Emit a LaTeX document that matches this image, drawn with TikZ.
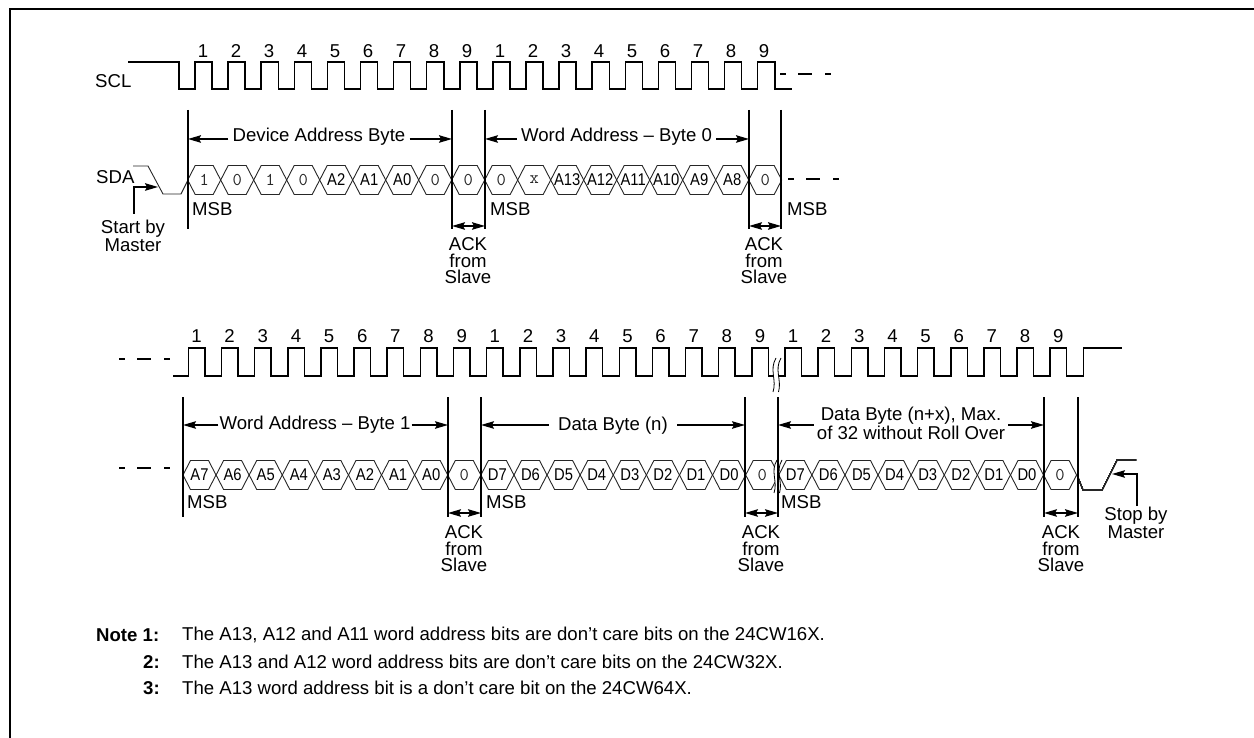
\documentclass[tikz,border=0pt]{standalone}
\usepackage{fontspec}
\setmainfont{Liberation Sans}
\newfontfamily\cellfont[FakeStretch=0.87]{Liberation Sans}
\usetikzlibrary{arrows.meta}

\tikzstyle{fonte} = [font=\fontsize{18.6}{16.5}\selectfont, inner sep=3pt, align=center]
\tikzstyle{notefonte} = [font=\fontsize{18.6}{20}\selectfont, inner sep=0pt]
\tikzstyle{wave} = [line width=1.5pt, line join=miter]
\tikzstyle{marker} = [line width=1.5pt]
\tikzstyle{hexline} = [line width=0.9pt, black!85]
\tikzstyle{gap} = [line width=1.3pt, dash pattern=on 6pt off 12pt on 14pt off 13pt on 6pt]
\tikzstyle{flow} = [line width=1.5pt]

\newcommand{\bitzero}[1]{{\ttfamily\fontsize{18}{18}\selectfont\color{black!85}#1}}
\newcommand{\cellname}[1]{{\cellfont\fontsize{17}{17}\selectfont #1}}

% one bit cell: name, left x, middle y, label
\newcommand{\hexcell}[4]{
    \draw [hexline] (#2,#3) -- ++(7.5,-14.5) -- ++(18,0) -- ++(7.5,14.5) -- ++(-7.5,14.5) -- ++(-18,0) -- cycle;
    \node at (#2+16.5,#3) [inner sep=0pt] (#1) {#4};
}

% break mark: x, top y, height
\newcommand{\breakmark}[3]{
    \fill [white] (#1,#2) .. controls (#1-7,#2+#3*0.35) and (#1+1,#2+#3*0.65) .. (#1-3,#2+#3) -- (#1+2.5,#2+#3) .. controls (#1+6,#2+#3*0.65) and (#1-2,#2+#3*0.35) .. (#1+5,#2) -- cycle;
    \draw [line width=0.8pt] (#1,#2) .. controls (#1-7,#2+#3*0.35) and (#1+1,#2+#3*0.65) .. (#1-3,#2+#3);
    \draw [line width=0.8pt] (#1+5,#2) .. controls (#1-2,#2+#3*0.35) and (#1+6,#2+#3*0.65) .. (#1+2.5,#2+#3);
}

\begin{document}
\begin{tikzpicture}[x=1pt, y=-1pt, >={Stealth[length=13pt,width=7.5pt,inset=2pt]}]

    \useasboundingbox (0,0) rectangle (1254,738);

    % frame
    \draw [line width=2pt] (10,738) -- (10,9) -- (1254,9);

    % first row: clock
    \node at (95,81) [fonte, anchor=west, inner sep=0pt] (sclname) {SCL};
    \draw [wave] (128,62) -- (179,62) foreach \k in {1,...,18} { -- ++(0,27) -- ++(16,0) -- ++(0,-27) -- ++(17.1,0)} -- ++(0,27) -- ++(17,0);
    \draw [gap] (780,74) -- (831,74);
    \foreach \n [count=\k from 0] in {1,2,3,4,5,6,7,8,9,1,2,3,4,5,6,7,8,9}
        \node at (203+33*\k,51) [fonte] (clka\k) {\n};

    % first row: data
    \node at (96,177) [fonte, anchor=west, inner sep=0pt] (sdaname) {SDA};
    \draw [hexline] (133,166) -- (148,166) -- (163,194) -- (181,194) -- (188,180);
    \foreach \lab [count=\k from 0] in {\bitzero{1},\bitzero{0},\bitzero{1},\bitzero{0},\cellname{A2},\cellname{A1},\cellname{A0},\bitzero{0},\bitzero{0},\bitzero{0},\bitzero{x},\cellname{A13},\cellname{A12},\cellname{A11},\cellname{A10},\cellname{A9},\cellname{A8},\bitzero{0}}
        \hexcell{bita\k}{187.7+33*\k}{180}{\lab}
    \draw [gap] (788,179) -- (839,179);

    % first row: markers
    \foreach \m/\x in {ma/188,mb/452,mc/485,md/749,me/781} {
        \draw [marker] (\x,110) -- (\x,229);
        \coordinate (\m) at (\x,139);
        \coordinate (\m-ack) at (\x,226);
    }
    \node at (319,137) [fonte, inner sep=4pt] (devbyte) {Device Address Byte};
    \draw [flow, ->] (devbyte.west |- ma) -- (ma);
    \draw [flow, ->] (devbyte.east |- mb) -- (mb);
    \node at (616.5,137) [fonte, inner sep=4pt] (wordzero) {Word Address -- Byte 0};
    \draw [flow, ->] (wordzero.west |- mc) -- (mc);
    \draw [flow, ->] (wordzero.east |- md) -- (md);

    \node at (192,209) [fonte, anchor=west, inner sep=0pt] (msba) {MSB};
    \node at (490,209) [fonte, anchor=west, inner sep=0pt] (msbb) {MSB};
    \node at (787,209) [fonte, anchor=west, inner sep=0pt] (msbc) {MSB};

    \draw [flow, <->] (mb-ack) -- (mc-ack);
    \draw [flow, <->] (md-ack) -- (me-ack);
    \node at (468,261) [fonte] (acka) {ACK\\from\\Slave};
    \node at (764,261) [fonte] (ackb) {ACK\\from\\Slave};

    \node at (133,236) [fonte] (startnote) {Start by\\Master};
    \coordinate (startfoot) at (134,214);
    \coordinate (startend) at (158,187);
    \draw [flow, ->] (startfoot) |- (startend);

    % second row: clock
    \draw [gap] (119,359) -- (170,359);
    \draw [wave] (173,376) -- (188.3,376) foreach \k in {1,...,27} { -- ++(0,-28) -- ++(16.5,0) -- ++(0,28) -- ++(16.65,0)} -- ++(0,-28) -- (1122,348);
    \foreach \n [count=\k from 0] in {1,2,3,4,5,6,7,8,9,1,2,3,4,5,6,7,8,9}
        \node at (196.5+33.15*\k,336) [fonte] (clkb\k) {\n};
    \foreach \n [count=\k from 0] in {1,2,3,4,5,6,7,8,9}
        \node at (793+33.15*\k,336) [fonte] (clkc\k) {\n};
    \breakmark{776}{358}{34}

    % second row: data
    \draw [gap] (119,468) -- (170,468);
    \foreach \lab [count=\k from 0] in {A7,A6,A5,A4,A3,A2,A1,A0,\bitzero{0},D7,D6,D5,D4,D3,D2,D1,D0,\bitzero{0},D7,D6,D5,D4,D3,D2,D1,D0,\bitzero{0}}
        \hexcell{bitb\k}{183+33.1*\k}{475}{\cellname{\lab}}
    \draw [hexline] (1077,475) -- (1083,490) -- (1102,490) -- (1117,460) -- (1136,460);
    \breakmark{777}{460}{33}

    % second row: markers
    \foreach \m/\x in {na/183,nb/448,nc/481,nd/745,ne/778,nf/1044,ng/1078} {
        \draw [marker] (\x,397) -- (\x,517);
        \coordinate (\m) at (\x,425);
        \coordinate (\m-ack) at (\x,513);
    }
    \node at (315,425) [fonte, inner sep=1pt] (wordone) {Word Address -- Byte 1};
    \draw [flow, ->] (wordone.west |- na) -- (na);
    \draw [flow, ->] (wordone.east |- nb) -- (nb);
    \node at (613,426) [fonte, inner sep=9.5pt] (databyte) {Data Byte (n)};
    \draw [flow, ->] (databyte.west |- nc) -- (nc);
    \draw [flow, ->] (databyte.east |- nd) -- (nd);
    \node at (911,423.5) [fonte] (datamax) {Data Byte (n+x), Max.\\of 32 without Roll Over};
    \draw [flow, ->] (datamax.west |- ne) -- (ne);
    \draw [flow, ->] (datamax.east |- nf) -- (nf);

    \node at (187,502) [fonte, anchor=west, inner sep=0pt] (msbd) {MSB};
    \node at (486,502) [fonte, anchor=west, inner sep=0pt] (msbe) {MSB};
    \node at (781,502) [fonte, anchor=west, inner sep=0pt] (msbf) {MSB};

    \draw [flow, <->] (nb-ack) -- (nc-ack);
    \draw [flow, <->] (nd-ack) -- (ne-ack);
    \draw [flow, <->] (nf-ack) -- (ng-ack);
    \node at (464,549) [fonte] (ackc) {ACK\\from\\Slave};
    \node at (761,549) [fonte] (ackd) {ACK\\from\\Slave};
    \node at (1061,549) [fonte] (acke) {ACK\\from\\Slave};

    \node at (1136,523) [fonte] (stopnote) {Stop by\\Master};
    \coordinate (stopfoot) at (1137,506);
    \coordinate (stopend) at (1112,474);
    \draw [flow, ->] (stopfoot) |- (stopend);

    % notes
    \node at (96,635) [notefonte, anchor=west] (notea) {\textbf{Note 1:}};
    \node at (143,662) [notefonte, anchor=west] (noteb) {\textbf{2:}};
    \node at (143,688) [notefonte, anchor=west] (notec) {\textbf{3:}};
    \node at (182,635) [notefonte, anchor=west] (textone) {The A13, A12 and A11 word address bits are don't care bits on the 24CW16X.};
    \node at (182,662) [notefonte, anchor=west] (texttwo) {The A13 and A12 word address bits are don't care bits on the 24CW32X.};
    \node at (182,688) [notefonte, anchor=west] (textthree) {The A13 word address bit is a don't care bit on the 24CW64X.};

\end{tikzpicture}
\end{document}
